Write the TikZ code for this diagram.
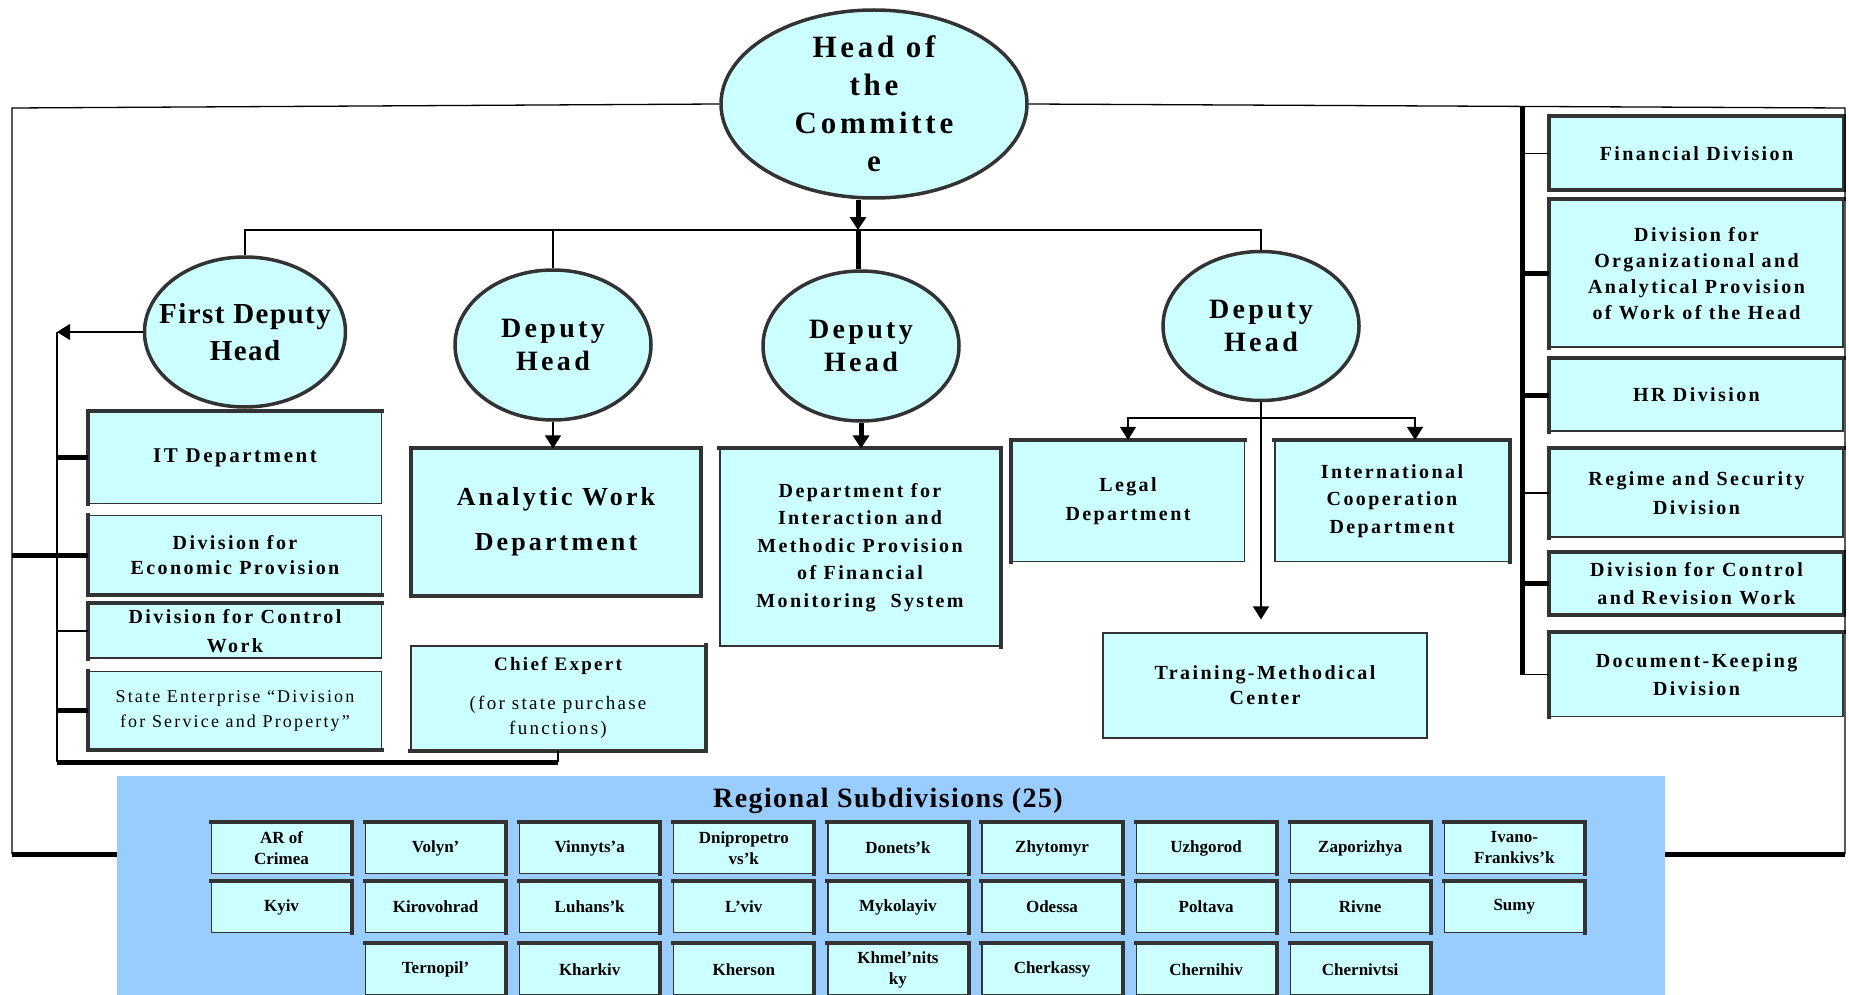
\documentclass[tikz,border=0pt]{standalone}
\usepackage{fontspec}
\setmainfont{Liberation Serif}
\newfontfamily\spc[LetterSpace=12]{Liberation Serif}
\newfontfamily\spcs[LetterSpace=5]{Liberation Serif}
\usetikzlibrary{shapes.geometric,arrows.meta}

\definecolor{paleblue}{RGB}{204,255,255}
\definecolor{skyblue}{RGB}{153,204,255}
\definecolor{edgegray}{RGB}{51,51,51}
\newcommand{\fsz}[2]{\fontsize{#1}{#2}\selectfont}

\tikzset{
  wire/.style={line width=1.3pt},
  bus/.style={line width=5pt},
  tip/.style={-{Triangle[width=16pt,length=13pt]}},
  ell/.style={ellipse, draw=edgegray, line width=3.5pt, fill=paleblue, inner sep=0pt},
  unit/.style={rectangle, draw=edgegray, line width=1.2pt, fill=paleblue, inner sep=1pt, align=center},
  rim/.style={draw=edgegray, line width=4pt, line cap=rect},
  region/.style={rectangle, fill=skyblue, inner sep=0pt},
  town/.style={unit, minimum width=140pt, minimum height=51pt, font=\bfseries\fsz{17}{21}},
  colbox/.style={unit, minimum width=293pt},
}

\begin{document}
\begin{tikzpicture}[x=1pt,y=-1pt]
\useasboundingbox (0,0) rectangle (1849,995);

% heads
\node[ell, minimum width=306pt, minimum height=188pt] (head) at (874,104) {};
\node[align=center, font=\spc\bfseries\fsz{31}{38}] (head-t) at (head.center) {Head of\\the\\Committe\\e};
\node[ell, minimum width=201pt, minimum height=150pt] (fdh) at (245,332) {};
\node[align=center, font=\spcs\bfseries\fsz{29}{37}] (fdh-t) at (fdh.center) {First Deputy\\Head};
\node[ell, minimum width=196pt, minimum height=150pt] (dh2) at (553,345) {};
\node[align=center, font=\spc\bfseries\fsz{28}{33}] (dh2-t) at (dh2.center) {Deputy\\Head};
\node[ell, minimum width=196pt, minimum height=150pt] (dh3) at (861,346) {};
\node[align=center, font=\spc\bfseries\fsz{28}{33}] (dh3-t) at (dh3.center) {Deputy\\Head};
\node[ell, minimum width=196pt, minimum height=149pt] (dh4) at (1261,326) {};
\node[align=center, font=\spc\bfseries\fsz{28}{33}] (dh4-t) at (dh4.center) {Deputy\\Head};

% first deputy group
\node[unit, minimum width=293pt, minimum height=91.5pt, font=\spc\bfseries\fsz{21}{25}] (it) at (235,457.5) {IT Department};
\node[unit, minimum width=293pt, minimum height=79pt, font=\spc\bfseries\fsz{20}{25}] (econ) at (235,555.3) {Division for\\Economic Provision};
\node[unit, minimum width=293pt, minimum height=54pt, font=\spc\bfseries\fsz{20}{29}] (ctrl) at (235,631) {Division for Control\\Work};
\node[unit, minimum width=293pt, minimum height=78pt, font=\spc\fsz{18}{25}] (state) at (235,710.8) {State Enterprise “Division\\for Service and Property”};

% deputy groups
\node[unit, minimum width=289pt, minimum height=146pt, font=\spc\bfseries\fsz{26}{45}] (analytic) at (556,522) {Analytic Work\\Department};
\node[unit, minimum width=294pt, minimum height=104pt, font=\spc\fsz{19}{25}] (chief) at (558,698) {{\bfseries Chief Expert}\\[14pt](for state purchase\\functions)};
\node[unit, minimum width=280pt, minimum height=197pt, font=\spc\bfseries\fsz{20}{27.5}] (interact) at (860,547.5) {Department for\\Interaction and\\Methodic Provision\\of Financial\\Monitoring \ System};
\node[unit, minimum width=233pt, minimum height=121pt, font=\spc\bfseries\fsz{20}{29}] (legal) at (1128,501) {Legal\\Department};
\node[unit, minimum width=234pt, minimum height=121pt, font=\spc\bfseries\fsz{20}{27.5}] (intl) at (1392,501) {International\\Cooperation\\Department};
\node[unit, minimum width=324pt, minimum height=105pt, font=\spc\bfseries\fsz{20}{25}] (training) at (1265,685.5) {Training-Methodical\\Center};

% right column
\node[colbox, minimum height=73pt, font=\spc\bfseries\fsz{20}{26}] (fin) at (1696.5,153.3) {Financial Division};
\node[colbox, minimum height=147pt, font=\spc\bfseries\fsz{20}{26}] (org) at (1696.5,273.5) {Division for\\Organizational and\\Analytical Provision\\of Work of the Head};
\node[colbox, minimum height=72pt, font=\spc\bfseries\fsz{20}{26}] (hr) at (1696.5,395) {HR Division};
\node[colbox, minimum height=88pt, font=\spc\bfseries\fsz{20}{29}] (regime) at (1696.5,493) {Regime and Security\\Division};
\node[colbox, minimum height=61.5pt, font=\spc\bfseries\fsz{20}{28.6}] (ctrlrev) at (1696.5,583.8) {Division for Control\\and Revision Work};
\node[colbox, minimum height=83.5pt, font=\spc\bfseries\fsz{20}{28.5}] (doc) at (1696.5,674.8) {Document-Keeping\\Division};

% thick rims
\foreach \n in {it,ctrl,legal,org,hr,regime,doc}
  \draw[rim] (\n.south west) -- (\n.north west) -- (\n.north east);
\foreach \n in {econ,state}
  \draw[rim] (\n.north west) -- (\n.south west) -- (\n.south east);
\foreach \n in {interact,intl}
  \draw[rim] (\n.north west) -- (\n.north east) -- (\n.south east);
\draw[rim] (chief.north east) -- (chief.south east) -- (chief.south west);
\foreach \n in {analytic,fin,ctrlrev}
  \draw[rim] (\n.south west) rectangle (\n.north east);

% regional subdivisions
\node[region, minimum width=1548pt, minimum height=219pt] (region) at (891,885.5) {};
\node[font=\spcs\bfseries\fsz{28}{32}] (regtitle) at (888,801) {Regional Subdivisions (25)};
\foreach \t [count=\i] in {AR of\\Crimea, Volyn’, Vinnyts’a, Dnipropetro\\vs’k, Donets’k, Zhytomyr, Uzhgorod, Zaporizhya, Ivano-\\Frankivs’k}
  \node[town] (ra\i) at ({281.5+154.1*(\i-1)},848) {\t};
\foreach \t [count=\i] in {Kyiv, Kirovohrad, Luhans’k, L’viv, Mykolayiv, Odessa, Poltava, Rivne, Sumy}
  \node[town] (rb\i) at ({281.5+154.1*(\i-1)},907) {\t};
\foreach \t [count=\i from 2] in {Ternopil’, Kharkiv, Kherson, Khmel’nits\\ky, Cherkassy, Chernihiv, Chernivtsi}
  \node[town] (rc\i) at ({281.5+154.1*(\i-1)},969.5) {\t};
\foreach \i in {1,...,9} {
  \draw[rim] (ra\i.north west) -- (ra\i.north east) -- (ra\i.south east);
  \draw[rim] (rb\i.north west) -- (rb\i.north east) -- (rb\i.south east);
}
\foreach \i in {2,...,8}
  \draw[rim] (rc\i.north west) -- (rc\i.north east) -- (rc\i.south east);

% outer frame
\coordinate (tl) at (12,108);
\coordinate (bl) at (12,854);
\coordinate (tr) at (1845,108);
\coordinate (br) at (1845,854);
\draw[wire] (head.west) -- (tl) -- (bl);
\draw[bus] (bl) -- (bl -| region.west);
\draw[wire] (head.east) -- (tr) -- (br);
\draw[bus] (br) -- (br -| region.east);

% right bar
\coordinate (rbar) at (1522,106);
\draw[bus] (rbar) -- (rbar |- doc.west);
\foreach \n in {fin,regime,doc}
  \draw[wire] (rbar |- \n.west) -- (\n.west);
\foreach \n in {org,hr,ctrlrev}
  \draw[bus] (rbar |- \n.west) -- (\n.west);

% head to deputies
\coordinate (bus) at (858,230);
\draw[bus,tip] (head.south -| bus) -- (bus);
\draw[wire] (fdh.north) |- (bus) -| (dh4.north);
\draw[wire] (dh2.north) -- (dh2.north |- bus);
\draw[bus] (bus) -- (bus |- dh3.north);

% first deputy links
\coordinate (lbar) at (57,332);
\coordinate (lbot) at (57,762);
\draw[wire,tip] (fdh.west) -- (lbar);
\draw[wire] (lbar) -- (lbot);
\draw[bus] (lbot) -- (lbot -| chief.south);
\draw[wire] (lbot -| chief.south) -- (chief.south);
\draw[bus] (lbar |- it.west) -- (it.west);
\draw[bus] (tl |- econ.west) -- (econ.west);
\draw[wire] (lbar |- ctrl.west) -- (ctrl.west);
\draw[bus] (lbar |- state.west) -- (state.west);

% deputies to units
\draw[wire,tip] (dh2.south) -- (dh2.south |- analytic.north);
\draw[bus,tip] (dh3.south) -- (dh3.south |- interact.north);
\coordinate (split) at (1261,418);
\coordinate (tmtip) at ([yshift=13pt]training.north);
\draw[wire,tip] (dh4.south) -- (dh4.south |- tmtip);
\draw[wire,tip] (split) -| (legal.north);
\draw[wire,tip] (split) -| ([xshift=23pt]intl.north);
\end{tikzpicture}
\end{document}
